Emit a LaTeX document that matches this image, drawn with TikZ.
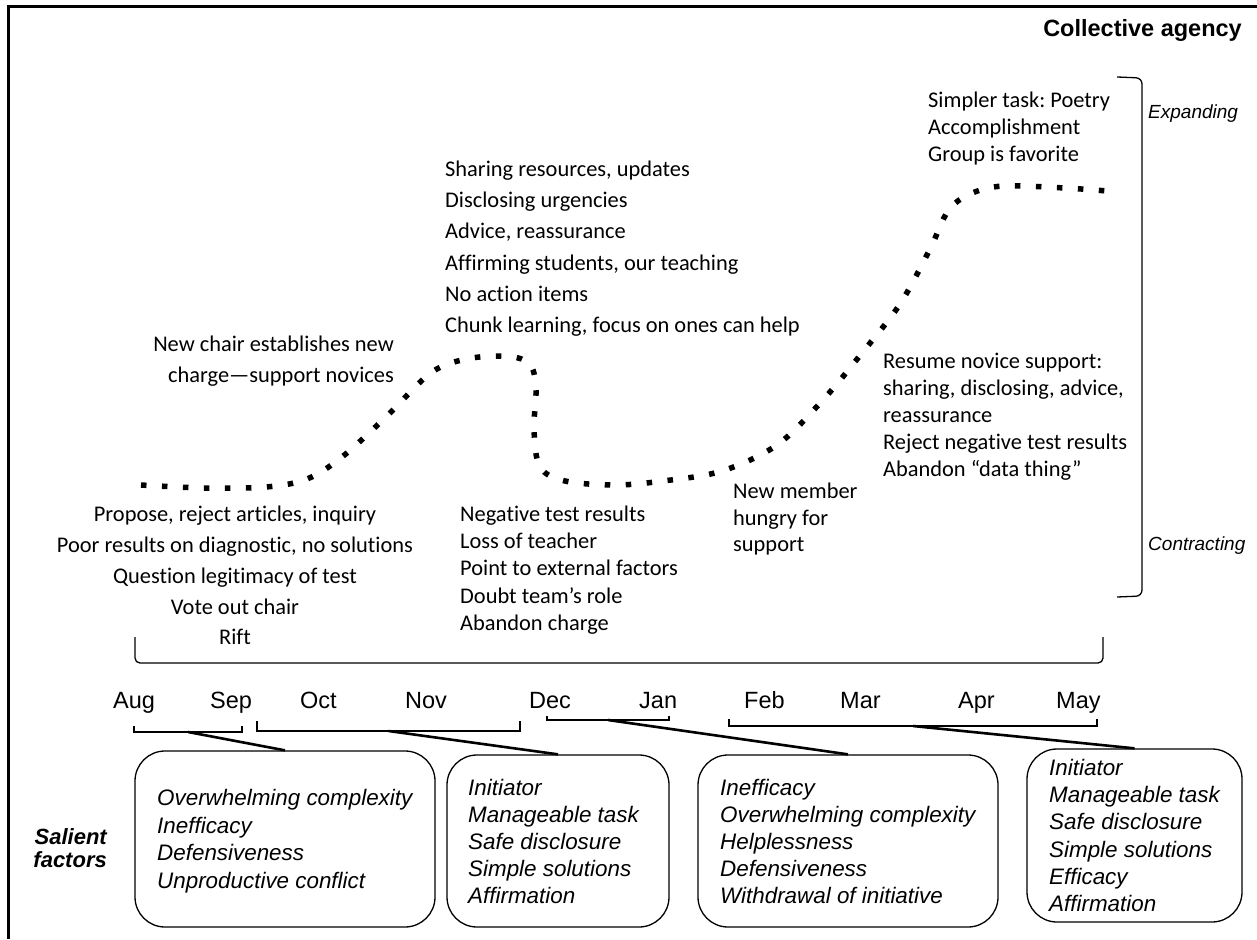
\documentclass[tikz,border=0pt]{standalone}
\usepackage{fontspec}
\setmainfont{Carlito}[Ligatures={NoCommon}]
\newfontfamily\arialfont{Liberation Sans}
\frenchspacing
\begin{document}
\begin{tikzpicture}[x=1pt,y=-1pt,
  lbl/.style={inner sep=0pt, font=\fontsize{22.4}{27}\selectfont},
  fac/.style={inner sep=0pt, anchor=base west, font=\arialfont\itshape\fontsize{22.4}{27}\selectfont},
  month/.style={inner sep=0pt, anchor=base west, font=\arialfont\fontsize{23.5}{28}\selectfont},
  factorbox/.style={draw, line width=1.3pt, rounded corners=30pt, inner sep=0pt},
  tick/.style={line width=1.6pt},
  link/.style={line width=2.6pt},
  agency/.style={line width=5.5pt, dash pattern=on 5.5pt off 15.5pt},
]
\useasboundingbox (0,0) rectangle (1257,939);

% outer frame (left and top edges)
\draw[line width=2.5pt] (8.5,939) -- (8.5,6.5) -- (1257,6.5);

\node[anchor=base east, inner sep=0pt, font=\arialfont\bfseries\fontsize{23.5}{28}\selectfont] (title) at (1242,37) {Collective agency};

% collective agency over the year
\draw[agency] plot[smooth, tension=0.55] coordinates {
  (141,485) (204,488) (266,487) (307,479) (342,457) (387,416) (432,372)
  (472,358) (513,357) (531,366) (536,390) (534,430) (540,467) (565,481)
  (615,485) (663,481) (722,471) (777,445) (822,401) (862,353) (900,304)
  (930,249) (948,211) (970,194) (1003,186) (1065,188) (1107,191)};

% annotations along the curve
\foreach \t [count=\i from 0] in {{Sharing resources, updates}, Disclosing urgencies, {Advice, reassurance}, {Affirming students, our teaching}, No action items, {Chunk learning, focus on ones can help}}
  \node[lbl, anchor=base west] (up\i) at (445,{176.5+31.2*\i}) {\t};

\node[lbl, anchor=base east] (chair1) at (394,351.7) {New chair establishes new};
\node[lbl, anchor=base east] (chair2) at (394,382.4) {charge—support novices};

\foreach \t [count=\i from 0] in {{Propose, reject articles, inquiry}, {Poor results on diagnostic, no solutions}, Question legitimacy of test, Vote out chair, Rift}
  \node[lbl, anchor=base] (lo\i) at (235,{521.7+30.8*\i}) {\t};

\foreach \t [count=\i from 0] in {Negative test results, Loss of teacher, Point to external factors, Doubt team’s role, Abandon charge}
  \node[lbl, anchor=base west] (mid\i) at (460,{521.7+27.1*\i}) {\t};

\foreach \t [count=\i from 0] in {New member, hungry for, support}
  \node[lbl, anchor=base west] (nm\i) at (733,{498.3+26.7*\i}) {\t};

\foreach \t [count=\i from 0] in {Resume novice support:, {sharing, disclosing, advice,}, reassurance, Reject negative test results, Abandon “data thing”}
  \node[lbl, anchor=base west] (res\i) at (883,{368+27.2*\i}) {\t};

\foreach \t [count=\i from 0] in {Simpler task: Poetry, Accomplishment, Group is favorite}
  \node[lbl, anchor=base west] (sim\i) at (928,{107+27.4*\i}) {\t};

% vertical scale bracket
\draw[line width=1.3pt, rounded corners=6pt] (1117,77) -- (1142,78) -- (1142,596) -- (1117,597);
\node[inner sep=0pt, anchor=base west, font=\arialfont\itshape\fontsize{19}{23}\selectfont] (expand) at (1148,119) {Expanding};
\node[inner sep=0pt, anchor=base west, font=\arialfont\itshape\fontsize{19}{23}\selectfont] (contract) at (1148,550) {Contracting};

% timeline bracket
\draw[line width=1.3pt, rounded corners=5pt] (135,637) -- (135,663) -- (1103,663) -- (1103,637);

% months
\foreach \m/\x [count=\i] in {Aug/113, Sep/210, Oct/300, Nov/405, Dec/529, Jan/639, Feb/744, Mar/840, Apr/958, May/1056}
  \node[month] (m\i) at (\x,708) {\m};

% period brackets
\draw[tick] (134,726) -- (134,732) -- (242,732) -- (242,726);
\coordinate (s1) at (188,732);
\draw[tick] (257,721) -- (257,731) -- (520,731) -- (520,721);
\coordinate (s2) at (388.5,731);
\draw[tick] (547,716) -- (547,720) -- (669,720) -- (669,716);
\coordinate (s3) at (608,720);
\draw[tick] (729,719) -- (729,726) -- (1097,726) -- (1097,719);
\coordinate (s4) at (913,726);

% salient factor boxes
\node[factorbox, minimum width=300pt, minimum height=176pt] (box1) at (285,839) {};
\node[factorbox, minimum width=222pt, minimum height=172pt] (box2) at (558,841) {};
\node[factorbox, minimum width=300pt, minimum height=172pt] (box3) at (848,841) {};
\node[factorbox, minimum width=215pt, minimum height=173pt] (box4) at (1134.5,835.5) {};

\draw[link] (s1) -- (box1.north);
\draw[link] (s2) -- (box2.north);
\draw[link] (s3) -- (box3.north);
\draw[link] (s4) -- (box4.north);

\foreach \t [count=\i from 0] in {Overwhelming complexity, Inefficacy, Defensiveness, Unproductive conflict}
  \node[fac] (fa\i) at (157,{805.7+27.5*\i}) {\t};
\foreach \t [count=\i from 0] in {Initiator, Manageable task, Safe disclosure, Simple solutions, Affirmation}
  \node[fac] (fb\i) at (468,{795+27.2*\i}) {\t};
\foreach \t [count=\i from 0] in {Inefficacy, Overwhelming complexity, Helplessness, Defensiveness, Withdrawal of initiative}
  \node[fac] (fc\i) at (720,{795+27.2*\i}) {\t};
\foreach \t [count=\i from 0] in {Initiator, Manageable task, Safe disclosure, Simple solutions, Efficacy, Affirmation}
  \node[fac] (fd\i) at (1049,{775.5+27.2*\i}) {\t};

\node[inner sep=0pt, anchor=base east, font=\arialfont\bfseries\itshape\fontsize{22}{22}\selectfont] (sal1) at (107,844) {Salient};
\node[inner sep=0pt, anchor=base east, font=\arialfont\bfseries\itshape\fontsize{22}{22}\selectfont] (sal2) at (107,867) {factors};
\end{tikzpicture}
\end{document}
